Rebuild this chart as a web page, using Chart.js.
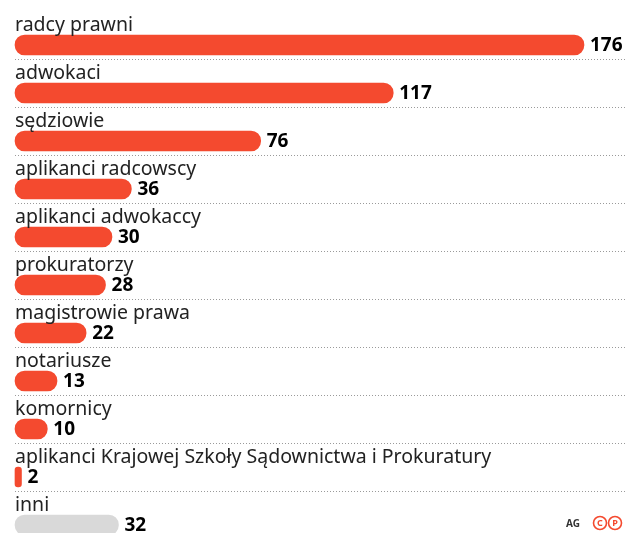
<!DOCTYPE html>
<html lang="pl">
<head>
<meta charset="utf-8">
<title>Zawody prawnicze</title>
<script src="https://cdn.jsdelivr.net/npm/chart.js@4/dist/chart.umd.min.js"></script>
<style>
    html, body { margin: 0; padding: 0; background: #fff; }
    #chartBox { position: relative; width: 625px; height: 533px; overflow: hidden; }
</style>
</head>
<body>
<div id="chartBox"><canvas id="professionChart"></canvas></div>
<script>
// ========================================
// DATA
// ========================================
const categories = [
    'radcy prawni',
    'adwokaci',
    'sędziowie',
    'aplikanci radcowscy',
    'aplikanci adwokaccy',
    'prokuratorzy',
    'magistrowie prawa',
    'notariusze',
    'komornicy',
    'aplikanci Krajowej Szkoły Sądownictwa i Prokuratury',
    'inni'
];
const values = [176, 117, 76, 36, 30, 28, 22, 13, 10, 2, 32];
const barColors = ['#f44a2f', '#f44a2f', '#f44a2f', '#f44a2f', '#f44a2f', '#f44a2f',
    '#f44a2f', '#f44a2f', '#f44a2f', '#f44a2f', '#d9d9d9'];

const FONT = '"Noto Sans", "Open Sans", sans-serif';

// ========================================
// PLUGIN - labels, values, separators
// ========================================
const rowDecorations = {
    id: 'rowDecorations',
    afterDatasetsDraw(chart) {
        const ctx = chart.ctx;
        const meta = chart.getDatasetMeta(0);
        const left = chart.chartArea.left;

        ctx.save();
        meta.data.forEach(function (bar, i) {
            // category name above the bar
            ctx.font = '19.5px ' + FONT;
            ctx.fillStyle = '#222';
            ctx.textBaseline = 'alphabetic';
            ctx.textAlign = 'left';
            ctx.fillText(categories[i], left, bar.y - 14);

            // value next to the bar end
            ctx.font = 'bold 19px ' + FONT;
            ctx.fillStyle = '#000';
            ctx.textBaseline = 'middle';
            ctx.fillText(String(values[i]), bar.x + 6, bar.y + 1);

            // dotted separator under the row
            if (i < meta.data.length - 1) {
                ctx.strokeStyle = '#9a9a9a';
                ctx.lineWidth = 1;
                ctx.setLineDash([1, 2]);
                ctx.beginPath();
                ctx.moveTo(left, Math.round(bar.y + 14) + 0.5);
                ctx.lineTo(chart.width, Math.round(bar.y + 14) + 0.5);
                ctx.stroke();
                ctx.setLineDash([]);
            }
        });

        // signature in the corner
        ctx.font = 'bold 10px ' + FONT;
        ctx.fillStyle = '#333';
        ctx.textAlign = 'left';
        ctx.textBaseline = 'middle';
        ctx.fillText('AG', 566, 524);

        ['C', 'P'].forEach(function (letter, k) {
            const cx = 600 + k * 15;
            ctx.beginPath();
            ctx.arc(cx, 523, 6.5, 0, Math.PI * 2);
            ctx.strokeStyle = '#f44a2f';
            ctx.lineWidth = 1.6;
            ctx.stroke();
            ctx.font = 'bold 9px ' + FONT;
            ctx.fillStyle = '#f44a2f';
            ctx.textAlign = 'center';
            ctx.fillText(letter, cx, 523.5);
        });
        ctx.restore();
    }
};

// ========================================
// CHART INITIALIZATION
// ========================================
function initializeProfessionChart() {
    const chartElement = document.getElementById('professionChart');
    if (!chartElement) return;

    new Chart(chartElement, {
        type: 'bar',
        data: {
            labels: categories,
            datasets: [{
                data: values,
                backgroundColor: barColors,
                borderWidth: 0,
                borderRadius: 10,
                borderSkipped: false,
                barThickness: 20,
                clip: false
            }]
        },
        options: {
            indexAxis: 'y',
            responsive: true,
            maintainAspectRatio: false,
            animation: false,
            layout: {
                padding: { left: 15, right: 41, top: 45, bottom: 8 }
            },
            plugins: {
                legend: { display: false },
                tooltip: { enabled: false }
            },
            scales: {
                x: {
                    display: false,
                    min: 0,
                    max: Math.max.apply(null, values)
                },
                y: {
                    display: false,
                    offset: false
                }
            }
        },
        plugins: [rowDecorations]
    });
}

document.addEventListener('DOMContentLoaded', initializeProfessionChart);
</script>
</body>
</html>
